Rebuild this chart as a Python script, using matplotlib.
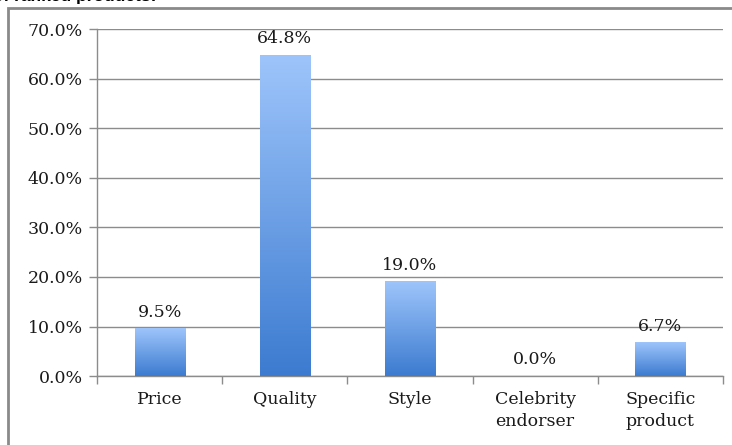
import numpy as np
import matplotlib
matplotlib.use("Agg")
import matplotlib.pyplot as plt
from matplotlib.colors import LinearSegmentedColormap
from matplotlib.patches import Rectangle
from matplotlib.ticker import FuncFormatter, FixedLocator, NullFormatter

plt.rcParams.update({
    "font.family": ["DejaVu Serif"],
    "figure.facecolor": "white",
    "savefig.facecolor": "white",
})

# ---- data ----
categories = ["Price", "Quality", "Style", "Celebrity\nendorser", "Specific\nproduct"]
shares = [9.5, 64.8, 19.0, 0.0, 6.7]          # percent of respondents
y_ticks = [0, 10, 20, 30, 40, 50, 60, 70]

GRID, INK, FS = "#8c8c8c", "#1a1a1a", 12.5
grad = LinearSegmentedColormap.from_list("bar", ["#3c7bd0", "#9ec5fb"])

fig = plt.figure(figsize=(7.32, 4.45), dpi=100)
ax = fig.add_axes([0.1325, 0.155, 0.855, 0.779])

x = np.arange(len(categories))
bars = ax.bar(x, shares, width=0.4, color="none", zorder=3)

# vertical gradient fill, light at the top of each bar
ramp = np.linspace(0, 1, 256).reshape(-1, 1)
for b in bars:
    x0, h, w = b.get_x(), b.get_height(), b.get_width()
    if h <= 0:
        continue
    ax.imshow(ramp, cmap=grad, origin="lower", aspect="auto", zorder=3,
              extent=[x0, x0 + w, 0, h], interpolation="bicubic")

for xi, v in zip(x, shares):
    ax.annotate(f"{v:.1f}%", (xi, v), xytext=(0, 6), textcoords="offset points",
                ha="center", va="bottom", fontsize=FS, color=INK, zorder=4)

ax.set_xlim(-0.5, len(categories) - 0.5)
ax.set_ylim(0, 70)
ax.set_yticks(y_ticks)
ax.yaxis.set_major_formatter(FuncFormatter(lambda v, _: f"{v:.1f}%"))
ax.yaxis.grid(True, color=GRID, lw=1.0)
ax.set_axisbelow(True)

# category labels centred, tick marks on the boundaries between categories
ax.xaxis.set_major_locator(FixedLocator(np.arange(len(categories) + 1) - 0.5))
ax.xaxis.set_major_formatter(NullFormatter())
ax.xaxis.set_minor_locator(FixedLocator(x))
ax.set_xticklabels(categories, minor=True, fontsize=FS, color=INK, linespacing=1.35)
ax.tick_params(axis="x", which="minor", length=0, pad=11)
ax.tick_params(axis="x", which="major", length=6, color=GRID, width=1.0)
ax.tick_params(axis="y", length=6, color=GRID, width=1.0, labelsize=FS,
               labelcolor=INK, pad=4)

for sp in ("top", "right"):
    ax.spines[sp].set_visible(False)
for sp in ("left", "bottom"):
    ax.spines[sp].set_color(GRID)
    ax.spines[sp].set_linewidth(1.0)

# outer chart frame and the clipped heading above it
fig.add_artist(Rectangle((8 / 732, -0.1), 1.2, 1 - 8 / 445 + 0.1,
                         transform=fig.transFigure, fill=False,
                         edgecolor="#8a8a8a", lw=2.0))
fig.text(-0.01, 1 - 1.5 / 445, "of ranked products:", ha="left", va="baseline",
         fontsize=FS, fontweight="bold", color="black",
         family=["Liberation Sans", "DejaVu Sans"])

fig.savefig("out.png", dpi=100)
